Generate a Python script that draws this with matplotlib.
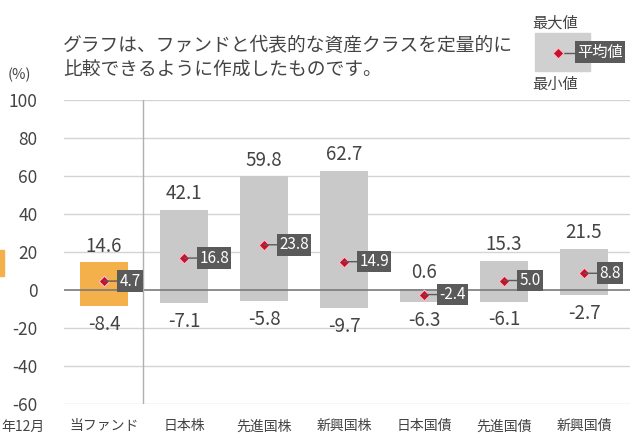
import numpy as np
import matplotlib.pyplot as plt

plt.rcParams['font.family'] = ['Noto Sans CJK JP', 'DejaVu Sans']
plt.rcParams['axes.unicode_minus'] = False

# データ（%）
categories = ['当ファンド', '日本株', '先進国株', '新興国株', '日本国債', '先進国債', '新興国債']
max_vals = [14.6, 42.1, 59.8, 62.7, 0.6, 15.3, 21.5]
min_vals = [-8.4, -7.1, -5.8, -9.7, -6.3, -6.1, -2.7]
avg_vals = [4.7, 16.8, 23.8, 14.9, -2.4, 5.0, 8.8]
yticks = [100, 80, 60, 40, 20, 0, -20, -40, -60]

fig = plt.figure(figsize=(6.35, 4.38), dpi=100)
ax = fig.add_axes([64 / 635, (438 - 404) / 438, (630 - 64) / 635, 304 / 438])

x = np.arange(len(categories))
colors = ['#f4b04a'] + ['#c9c9c9'] * (len(categories) - 1)

for yv in yticks:
    if yv != 0:
        ax.axhline(yv, color='#d4d4d4', lw=1, zorder=0)

ax.bar(x, np.array(max_vals) - np.array(min_vals), bottom=min_vals, width=0.6,
       color=colors, zorder=1)
ax.axhline(0, color='#7a7a7a', lw=1.2, zorder=2)
ax.axvline(0.49, color='#b0b0b0', lw=1, zorder=2)

ax.scatter(x, avg_vals, marker='D', s=30, color='#c8102e', edgecolors='#f7c0c8',
           linewidths=0.8, zorder=4)

for i in range(len(categories)):
    ax.text(x[i], max_vals[i] + 3, f'{max_vals[i]:.1f}', ha='center', va='bottom',
            fontsize=13.5, color='#444444')
    ax.text(x[i], min_vals[i] - 4, f'{min_vals[i]:.1f}', ha='center', va='top',
            fontsize=13.5, color='#444444')
    ax.annotate(f'{avg_vals[i]:.1f}', xy=(x[i], avg_vals[i]), xytext=(11, 0),
                textcoords='offset points', ha='left', va='center', fontsize=11,
                color='white',
                bbox=dict(boxstyle='square,pad=0.15', fc='#5a5a5a', ec='none'),
                arrowprops=dict(arrowstyle='-', color='#5a5a5a', lw=1,
                                shrinkA=0, shrinkB=0),
                zorder=5)

ax.set_xlim(-0.5, 6.575)
ax.set_ylim(-60, 100)
ax.set_yticks(yticks)
ax.set_xticks(x)
ax.set_xticklabels(categories, fontsize=10, color='#444444')
ax.tick_params(axis='y', labelsize=12.5, colors='#444444', length=0, pad=19)
ax.tick_params(axis='x', length=0, pad=11)
for s in ax.spines.values():
    s.set_visible(False)

# 注記
fig.text(63 / 635, 1 - 45 / 438, 'グラフは、ファンドと代表的な資産クラスを定量的に',
         fontsize=13.5, color='#444444', va='center')
fig.text(63 / 635, 1 - 70 / 438, '比較できるように作成したものです。',
         fontsize=13.5, color='#444444', va='center')
fig.text(8 / 635, 1 - 75 / 438, '(%)', fontsize=10.5, color='#444444', va='center')
fig.text(1 / 635, 1 - 427 / 438, '年12月', fontsize=10, color='#444444', va='center')

# 凡例
lax = fig.add_axes([0, 0, 1, 1], facecolor='none')
lax.set_xlim(0, 635)
lax.set_ylim(438, 0)
lax.axis('off')
lax.add_patch(plt.Rectangle((0, 250), 4, 26, color='#f4b04a'))
lax.add_patch(plt.Rectangle((535, 33), 55, 38, color='#d0d0d0'))
lax.scatter([558], [53], marker='D', s=30, color='#c8102e', edgecolors='#f7c0c8',
            linewidths=0.8, zorder=4)
lax.plot([558, 576], [53, 53], color='#5a5a5a', lw=1)
lax.text(577, 52, '平均値', fontsize=11, color='white', va='center', ha='left',
         bbox=dict(boxstyle='square,pad=0.15', fc='#5a5a5a', ec='none'))
lax.text(532, 23, '最大値', fontsize=11, color='#444444', va='center')
lax.text(532, 84, '最小値', fontsize=11, color='#444444', va='center')

fig.savefig('out.png', dpi=100)
